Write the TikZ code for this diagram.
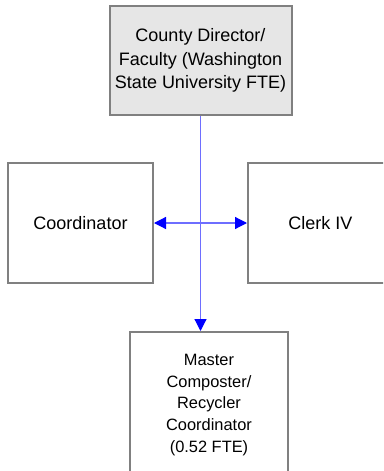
\documentclass[tikz,border=0pt]{standalone}
\usepackage{fontspec}
\setmainfont{Liberation Sans}
\usetikzlibrary{arrows.meta}
\definecolor{boxline}{RGB}{128,128,128}
\definecolor{topfill}{RGB}{230,230,230}
\definecolor{linkblue}{RGB}{110,110,255}
\tikzset{
  orgbox/.style={draw=boxline, line width=1.5pt, align=center, inner sep=2pt,
    font=\fontsize{13.5pt}{17.5pt}\selectfont},
  link/.style={draw=linkblue, line width=0.9pt},
  tip/.style={-{Triangle[length=9pt,width=9pt,color=blue]}}
}
\begin{document}
\begin{tikzpicture}[x=0.75pt,y=-0.75pt]
\useasboundingbox (0,0) rectangle (383,471);
\clip (0,0) rectangle (383,471);
\node[orgbox, fill=topfill, minimum width=136.5pt, minimum height=81.75pt] (top) at (200.5,60.5)
  {County Director/\\Faculty (Washington\\State University FTE)};
\node[orgbox, fill=white, minimum width=108.75pt, minimum height=90pt] (coord) at (80.5,223) {Coordinator};
\node[orgbox, fill=white, minimum width=108.75pt, minimum height=90pt] (clerk) at (320.5,223) {Clerk IV};
\node[orgbox, fill=white, minimum width=118.5pt, minimum height=109.5pt,
  font=\fontsize{12.3pt}{16.3pt}\selectfont] (bottom) at (209,405)
  {Master\\Composter/\\Recycler\\Coordinator\\(0.52 FTE)};
\coordinate (arrowend) at (top.south |- bottom.north);
\draw[link, tip] (top.south) -- (arrowend);
\draw[link, {Triangle[length=9pt,width=9pt,color=blue]}-{Triangle[length=9pt,width=9pt,color=blue]}] (coord.east) -- (clerk.west);
\end{tikzpicture}
\end{document}
